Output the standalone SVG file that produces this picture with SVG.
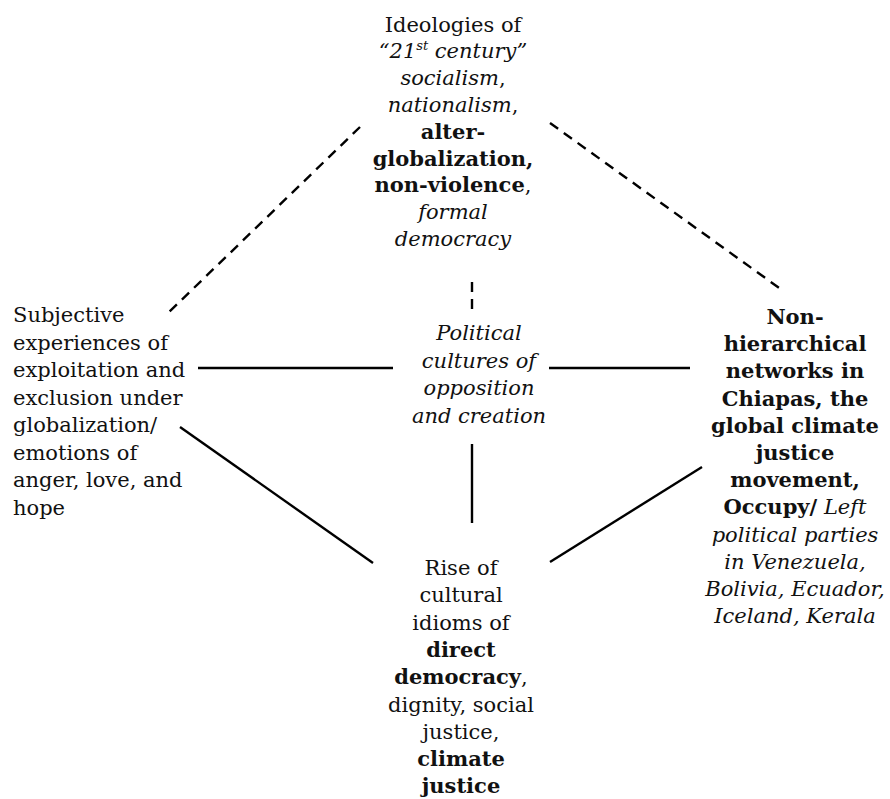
<svg xmlns="http://www.w3.org/2000/svg" width="890" height="799" viewBox="0 0 890 799">
<style>
text{font-family:"DejaVu Serif","Liberation Serif",serif;font-size:21px;fill:#111}
.c{text-anchor:middle}
.b{font-weight:bold}
.i{font-style:italic}
.ln{stroke:#000;stroke-width:2.4;fill:none}
.d{stroke-dasharray:10 7}
</style>
<rect width="890" height="799" fill="#fff"/>
<g id="connectors">
<line class="ln d" x1="360" y1="127" x2="166" y2="315"/>
<line class="ln d" x1="550" y1="123" x2="782" y2="290"/>
<line class="ln d" x1="472" y1="282" x2="472" y2="309"/>
<line class="ln" x1="198" y1="368" x2="393" y2="368"/>
<line class="ln" x1="549" y1="368" x2="690" y2="368"/>
<line class="ln" x1="472" y1="444" x2="472" y2="523"/>
<line class="ln" x1="180" y1="427" x2="373" y2="563"/>
<line class="ln" x1="702" y1="467" x2="550" y2="562"/>
</g>
<g id="ideologies">
<text class="c" x="453" y="31.5">Ideologies of</text>
<text class="c i" x="453" y="58.3">“21<tspan font-size="13" dy="-8">st</tspan><tspan dy="8"> century”</tspan></text>
<text class="c" x="453" y="85.1"><tspan class="i">socialism</tspan>,</text>
<text class="c" x="453" y="111.9"><tspan class="i">nationalism</tspan>,</text>
<text class="c b" x="453" y="138.7">alter-</text>
<text class="c b" x="453" y="165.5">globalization,</text>
<text class="c" x="453" y="192.3"><tspan class="b">non-violence</tspan>,</text>
<text class="c i" x="453" y="219.1">formal</text>
<text class="c i" x="453" y="245.9">democracy</text>
</g>
<g id="political-cultures">
<text class="c i" x="479" y="340">Political</text>
<text class="c i" x="479" y="367.5">cultures of</text>
<text class="c i" x="479" y="395">opposition</text>
<text class="c i" x="479" y="422.5">and creation</text>
</g>
<g id="subjective">
<text x="13" y="322">Subjective</text>
<text x="13" y="349.5">experiences of</text>
<text x="13" y="377">exploitation and</text>
<text x="13" y="404.5">exclusion under</text>
<text x="13" y="432">globalization/</text>
<text x="13" y="459.5">emotions of</text>
<text x="13" y="487">anger, love, and</text>
<text x="13" y="514.5">hope</text>
</g>
<g id="networks">
<text class="c b" x="795" y="324">Non-</text>
<text class="c b" x="795" y="351.2">hierarchical</text>
<text class="c b" x="795" y="378.4">networks in</text>
<text class="c b" x="795" y="405.6">Chiapas, the</text>
<text class="c b" x="795" y="432.8">global climate</text>
<text class="c b" x="795" y="460">justice</text>
<text class="c b" x="795" y="487.2">movement,</text>
<text class="c" x="795" y="514.4"><tspan class="b">Occupy/</tspan> <tspan class="i">Left</tspan></text>
<text class="c i" x="795" y="541.6">political parties</text>
<text class="c i" x="795" y="568.8">in Venezuela,</text>
<text class="c i" x="795" y="596">Bolivia, Ecuador,</text>
<text class="c i" x="795" y="623.2">Iceland, Kerala</text>
</g>
<g id="idioms">
<text class="c" x="461" y="575">Rise of</text>
<text class="c" x="461" y="602.3">cultural</text>
<text class="c" x="461" y="629.6">idioms of</text>
<text class="c b" x="461" y="656.9">direct</text>
<text class="c" x="461" y="684.2"><tspan class="b">democracy</tspan>,</text>
<text class="c" x="461" y="711.5">dignity, social</text>
<text class="c" x="461" y="738.8">justice,</text>
<text class="c b" x="461" y="766.1">climate</text>
<text class="c b" x="461" y="793.4">justice</text>
</g>
</svg>
